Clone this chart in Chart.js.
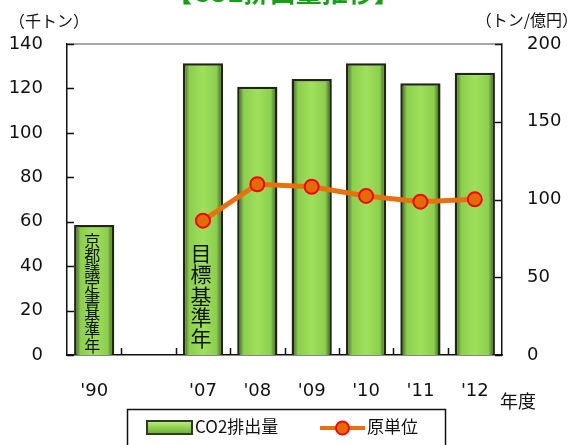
<!DOCTYPE html>
<html lang="ja">
<head>
<meta charset="utf-8">
<title>CO2排出量推移</title>
<script src="https://cdn.jsdelivr.net/npm/chart.js@4.4.1/dist/chart.umd.min.js"></script>
<style>
    html, body { margin: 0; padding: 0; background: #fff; }
    #wrap { width: 576px; height: 445px; position: relative; }
</style>
</head>
<body>
<div id="wrap"><canvas id="co2Chart"></canvas></div>
<script>
// chart data
const years = ["'90", "", "'07", "'08", "'09", "'10", "'11", "'12"];
const co2Emissions = [58.5, null, 131.3, 120.8, 124.3, 131.3, 122.3, 127.1];   // 千トン
const intensity = [null, null, 86.4, 109.8, 108.2, 102.3, 98.6, 100.1];        // トン/億円
const leftTicks = [0, 20, 40, 60, 80, 100, 120, 140];
const rightTicks = [0, 50, 100, 150, 200];
const barNotes = [
    { index: 0, text: '京都議定書基準年', size: 16, top: 241, step: 15 },
    { index: 2, text: '目標基準年', size: 21, top: 253, step: 21.3 }
];

const JP_FONT = '"Noto Sans CJK JP", "DejaVu Sans", sans-serif';
const NUM_FONT = '"DejaVu Sans", Verdana, sans-serif';
const BAR_GREEN = '#9bdc58';
const LINE_ORANGE = '#e8710f';

document.addEventListener('DOMContentLoaded', () => {
    const canvas = document.getElementById('co2Chart');

//********************************************************************************
///Bar gradient (dark edges, light middle)
//********************************************************************************
    function barFill(context) {
        const chart = context.chart;
        if (!chart.chartArea) return BAR_GREEN;
        const x = chart.scales.x.getPixelForValue(context.dataIndex);
        const half = 20;
        const g = chart.ctx.createLinearGradient(x - half, 0, x + half, 0);
        g.addColorStop(0, '#2f5214');
        g.addColorStop(0.16, '#8ccf4d');
        g.addColorStop(0.5, '#9fe05c');
        g.addColorStop(0.84, '#8ccf4d');
        g.addColorStop(1, '#2c4c12');
        return g;
    }

//********************************************************************************
///Plugin: frame, inward ticks, text annotations, legend
//********************************************************************************
    const decorations = {
        id: 'decorations',
        afterDatasetsDraw(chart) {
            const ctx = chart.ctx;
            const xs = chart.scales.x;
            ctx.save();
            ctx.fillStyle = '#111';
            ctx.textAlign = 'center';
            ctx.textBaseline = 'middle';
            barNotes.forEach(note => {
                const cx = xs.getPixelForValue(note.index) - 2;
                ctx.font = `${note.size}px ${JP_FONT}`;
                [...note.text].forEach((ch, i) => {
                    ctx.fillText(ch, cx, note.top + i * note.step);
                });
            });
            ctx.restore();
        },
        afterDraw(chart) {
            const ctx = chart.ctx;
            const area = chart.chartArea;
            const xs = chart.scales.x;
            const yl = chart.scales.y;
            const yr = chart.scales.y1;
            ctx.save();

            // top frame line
            ctx.strokeStyle = '#888';
            ctx.lineWidth = 1.5;
            ctx.beginPath();
            ctx.moveTo(area.left, area.top);
            ctx.lineTo(area.right, area.top);
            ctx.stroke();

            // inward tick marks
            ctx.strokeStyle = '#111';
            ctx.lineWidth = 1.5;
            ctx.beginPath();
            leftTicks.forEach(v => {
                const y = Math.round(yl.getPixelForValue(v)) + 0.5;
                ctx.moveTo(area.left, y);
                ctx.lineTo(area.left + 7, y);
            });
            rightTicks.forEach(v => {
                const y = Math.round(yr.getPixelForValue(v)) + 0.5;
                ctx.moveTo(area.right, y);
                ctx.lineTo(area.right - 7, y);
            });
            for (let i = 1; i < years.length; i++) {
                const x = Math.round((xs.getPixelForValue(i - 1) + xs.getPixelForValue(i)) / 2) + 0.5;
                ctx.moveTo(x, area.bottom);
                ctx.lineTo(x, area.bottom - 7);
            }
            ctx.stroke();

            // axis titles
            ctx.fillStyle = '#111';
            ctx.textBaseline = 'middle';
            ctx.font = `16px ${JP_FONT}`;
            ctx.textAlign = 'left';
            ctx.fillText('（千トン）', 9, 21);
            ctx.textAlign = 'right';
            ctx.fillText('（トン/億円）', 578, 20);
            ctx.font = `18px ${JP_FONT}`;
            ctx.textAlign = 'left';
            ctx.fillText('年度', 500, 401);

            // title, mostly cut off at the top edge
            ctx.font = `bold 26px ${JP_FONT}`;
            ctx.fillStyle = '#16a016';
            ctx.textAlign = 'center';
            ctx.textBaseline = 'alphabetic';
            ctx.fillText('【CO2排出量推移】', 283, 1.5);

            // legend
            ctx.strokeStyle = '#111';
            ctx.lineWidth = 1.5;
            ctx.strokeRect(127.5, 409.5, 318, 40);
            const sw = ctx.createLinearGradient(0, 421, 0, 435);
            sw.addColorStop(0, '#bdf08a');
            sw.addColorStop(0.5, '#8ccf4d');
            sw.addColorStop(1, '#6aa834');
            ctx.fillStyle = sw;
            ctx.fillRect(147, 421, 45, 13);
            ctx.strokeStyle = '#2d3d1c';
            ctx.lineWidth = 2;
            ctx.strokeRect(147, 421, 45, 13);
            ctx.fillStyle = '#111';
            ctx.font = `17px ${JP_FONT}`;
            ctx.textAlign = 'left';
            ctx.textBaseline = 'middle';
            ctx.fillText('CO2排出量', 195, 427);

            ctx.strokeStyle = LINE_ORANGE;
            ctx.lineWidth = 4;
            ctx.beginPath();
            ctx.moveTo(320, 428);
            ctx.lineTo(365, 428);
            ctx.stroke();
            ctx.beginPath();
            ctx.arc(342.5, 428, 6.5, 0, Math.PI * 2);
            ctx.fillStyle = '#e36c09';
            ctx.fill();
            ctx.strokeStyle = '#ff0000';
            ctx.lineWidth = 2;
            ctx.stroke();
            ctx.fillStyle = '#111';
            ctx.fillText('原単位', 367, 427);

            ctx.restore();
        }
    };

//********************************************************************************
///Chart
//********************************************************************************
    new Chart(canvas, {
        data: {
            labels: years,
            datasets: [
                {
                    type: 'line',
                    label: '原単位',
                    data: intensity,
                    yAxisID: 'y1',
                    order: 1,
                    borderColor: LINE_ORANGE,
                    borderWidth: 5,
                    pointRadius: 7,
                    pointBackgroundColor: '#e36c09',
                    pointBorderColor: '#ff0000',
                    pointBorderWidth: 2,
                    tension: 0
                },
                {
                    type: 'bar',
                    label: 'CO2排出量',
                    data: co2Emissions,
                    yAxisID: 'y',
                    order: 2,
                    backgroundColor: barFill,
                    borderColor: '#1f2618',
                    borderWidth: 2.5,
                    categoryPercentage: 1,
                    barPercentage: 0.74
                }
            ]
        },
        plugins: [decorations],
        options: {
            responsive: true,
            maintainAspectRatio: false,
            animation: false,
            layout: { padding: { top: 44, left: 0, right: 0, bottom: 0 } },
            plugins: {
                legend: { display: false },
                title: { display: false },
                tooltip: { enabled: false }
            },
            scales: {
                x: {
                    offset: true,
                    grid: { display: false, drawTicks: false },
                    border: { display: true, color: '#111', width: 1.5 },
                    ticks: {
                        color: '#111',
                        padding: 26,
                        maxRotation: 0,
                        font: { family: NUM_FONT, size: 18 }
                    },
                    afterFit: scale => { scale.height = 90; }
                },
                y: {
                    position: 'left',
                    min: 0,
                    max: 140,
                    afterBuildTicks: scale => { scale.ticks = leftTicks.map(v => ({ value: v })); },
                    grid: { display: false, drawTicks: false },
                    border: { display: true, color: '#111', width: 1.5 },
                    ticks: {
                        color: '#111',
                        padding: 24,
                        font: { family: NUM_FONT, size: 18 }
                    },
                    afterFit: scale => { scale.width = 67; }
                },
                y1: {
                    position: 'right',
                    min: 0,
                    max: 200,
                    afterBuildTicks: scale => { scale.ticks = rightTicks.map(v => ({ value: v })); },
                    grid: { display: false, drawTicks: false },
                    border: { display: true, color: '#111', width: 1.5 },
                    ticks: {
                        color: '#111',
                        padding: 25,
                        font: { family: NUM_FONT, size: 18 }
                    },
                    afterFit: scale => { scale.width = 74; }
                }
            }
        }
    });
});
</script>
</body>
</html>
